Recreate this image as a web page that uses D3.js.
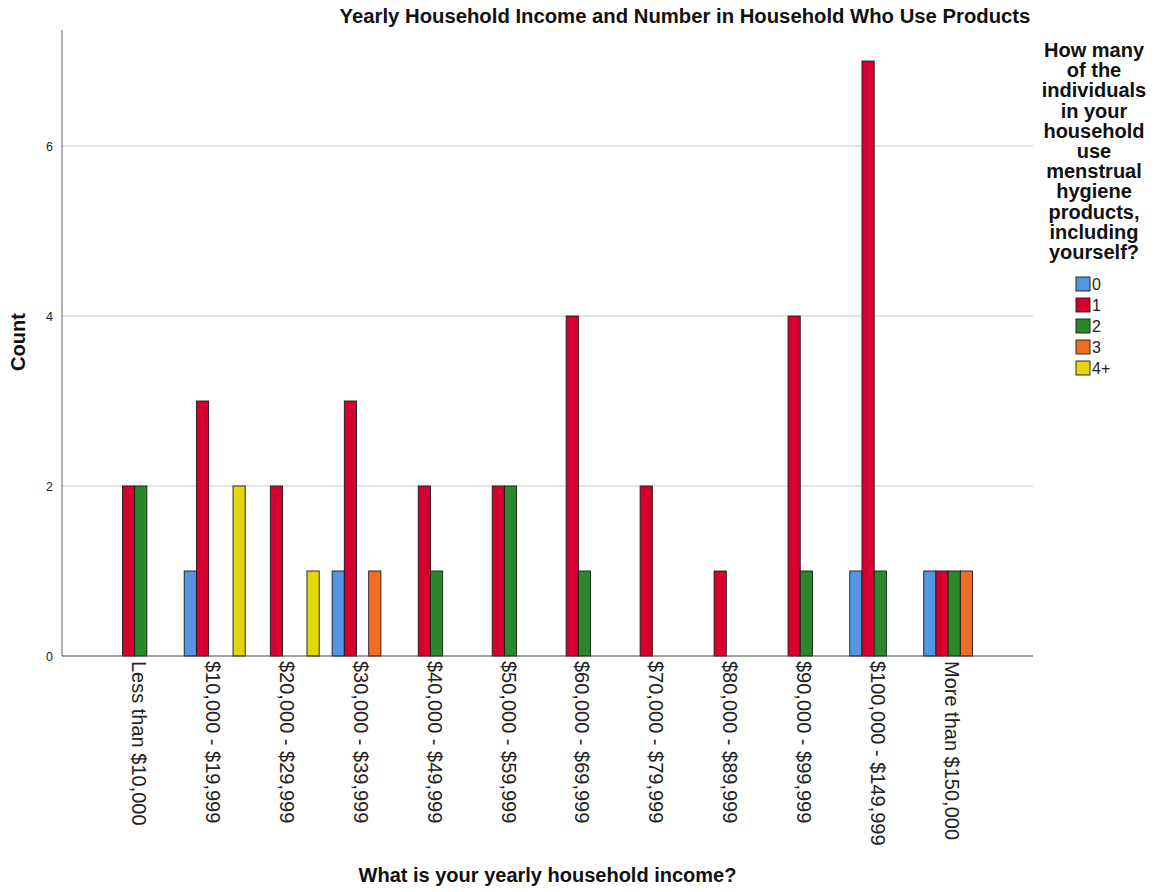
<!DOCTYPE html>
<html>
<head>
<meta charset="utf-8">
<script src="https://cdn.jsdelivr.net/npm/d3@7"></script>
<style>
  html, body { margin: 0; padding: 0; background: #fff; }
  text { font-family: "Liberation Sans", Arial, sans-serif; }
</style>
</head>
<body>
<svg id="chart" width="1154" height="892"></svg>
<script>
// ---- data ----
const categories = [
  "Less than $10,000", "$10,000 - $19,999", "$20,000 - $29,999", "$30,000 - $39,999",
  "$40,000 - $49,999", "$50,000 - $59,999", "$60,000 - $69,999", "$70,000 - $79,999",
  "$80,000 - $89,999", "$90,000 - $99,999", "$100,000 - $149,999", "More than $150,000"
];
const seriesKeys = ["0", "1", "2", "3", "4+"];
const series0  = [0, 1, 0, 1, 0, 0, 0, 0, 0, 0, 1, 1];
const series1  = [2, 3, 2, 3, 2, 2, 4, 2, 1, 4, 7, 1];
const series2  = [2, 0, 0, 0, 1, 2, 1, 0, 0, 1, 1, 1];
const series3  = [0, 0, 0, 1, 0, 0, 0, 0, 0, 0, 0, 1];
const series4p = [0, 2, 1, 0, 0, 0, 0, 0, 0, 0, 0, 0];
const yTicks = [0, 2, 4, 6];
const seriesColors = ["#5596e2", "#d5002f", "#2a872a", "#f26d24", "#e3d60e"];

const title = "Yearly Household Income and Number in Household Who Use Products";
const xTitle = "What is your yearly household income?";
const yTitle = "Count";
const legendTitleLines = ["How many", "of the", "individuals", "in your", "household", "use",
  "menstrual", "hygiene", "products,", "including", "yourself?"];

const seriesValues = [series0, series1, series2, series3, series4p];
const table = categories.map((c, i) => ({
  cat: c,
  vals: seriesKeys.map((k, j) => ({ key: k, value: seriesValues[j][i] }))
}));

// ---- layout ----
const svg = d3.select("#chart");
const plot = { left: 62, right: 1033, top: 30, bottom: 656 };

const x = d3.scaleBand().domain(categories)
  .range([plot.left, plot.right]).paddingInner(0).paddingOuter(0.565);
const x1 = d3.scaleBand().domain(seriesKeys)
  .range([0, x.bandwidth()]).paddingInner(0).paddingOuter(0.53);
const y = d3.scaleLinear().domain([0, 7.365]).range([plot.bottom, plot.top]);
const color = d3.scaleOrdinal().domain(seriesKeys).range(seriesColors);

// gridlines
svg.append("g").selectAll("line").data(yTicks.filter(d => d > 0)).join("line")
  .attr("x1", plot.left).attr("x2", plot.right)
  .attr("y1", d => y(d)).attr("y2", d => y(d))
  .attr("stroke", "#c9c9c9").attr("stroke-width", 1.2);

// y axis
const yAxis = d3.axisLeft(y).tickValues(yTicks).tickSize(0).tickPadding(9);
const gy = svg.append("g").attr("transform", `translate(${plot.left},0)`).call(yAxis);
gy.select(".domain").remove();
gy.selectAll("text").attr("font-size", 12.5).attr("fill", "#222")
  .style("font-family", "'Liberation Sans', Arial, sans-serif");
svg.append("line").attr("x1", plot.left).attr("x2", plot.left)
  .attr("y1", plot.top).attr("y2", plot.bottom)
  .attr("stroke", "#7a7a7a").attr("stroke-width", 1.2);

// bars
const groups = svg.append("g").selectAll("g").data(table).join("g")
  .attr("transform", d => `translate(${x(d.cat)},0)`);
groups.selectAll("rect").data(d => d.vals.filter(v => v.value > 0)).join("rect")
  .attr("x", d => x1(d.key))
  .attr("width", x1.bandwidth())
  .attr("y", d => y(d.value))
  .attr("height", d => y(0) - y(d.value))
  .attr("fill", d => color(d.key))
  .attr("stroke", "#1a1a1a").attr("stroke-width", 0.9);

// baseline
svg.append("line").attr("x1", plot.left).attr("x2", plot.right)
  .attr("y1", plot.bottom).attr("y2", plot.bottom)
  .attr("stroke", "#444").attr("stroke-width", 1.2);

// x axis labels (rotated)
svg.append("g").selectAll("text").data(categories).join("text")
  .attr("transform", d => `translate(${x(d) + x.bandwidth() / 2 - 2},${plot.bottom + 5}) rotate(90)`)
  .attr("dy", "0.35em")
  .attr("text-anchor", "start")
  .attr("font-size", 20)
  .attr("fill", "#222")
  .text(d => d);

// titles
svg.append("text").attr("x", 685).attr("y", 23)
  .attr("text-anchor", "middle").attr("font-size", 20.3).attr("font-weight", "bold")
  .attr("fill", "#111").text(title);
svg.append("text").attr("x", (plot.left + plot.right) / 2).attr("y", 882)
  .attr("text-anchor", "middle").attr("font-size", 20).attr("font-weight", "bold")
  .attr("fill", "#111").text(xTitle);
svg.append("text").attr("transform", "translate(25,342) rotate(-90)")
  .attr("text-anchor", "middle").attr("font-size", 20).attr("font-weight", "bold")
  .attr("fill", "#111").text(yTitle);

// legend
const lt = svg.append("text").attr("text-anchor", "middle").attr("font-size", 20)
  .attr("font-weight", "bold").attr("fill", "#111");
lt.selectAll("tspan").data(legendTitleLines).join("tspan")
  .attr("x", 1094).attr("y", (d, i) => 57 + i * 20.2).text(d => d);

const leg = svg.append("g").selectAll("g").data(seriesKeys).join("g")
  .attr("transform", (d, i) => `translate(1076,${277 + i * 21})`);
leg.append("rect").attr("width", 14).attr("height", 14)
  .attr("fill", d => color(d)).attr("stroke", "#1a1a1a").attr("stroke-width", 0.9);
leg.append("text").attr("x", 16).attr("y", 7).attr("dy", "0.36em")
  .attr("font-size", 16).attr("fill", "#222").text(d => d);
</script>
</body>
</html>
